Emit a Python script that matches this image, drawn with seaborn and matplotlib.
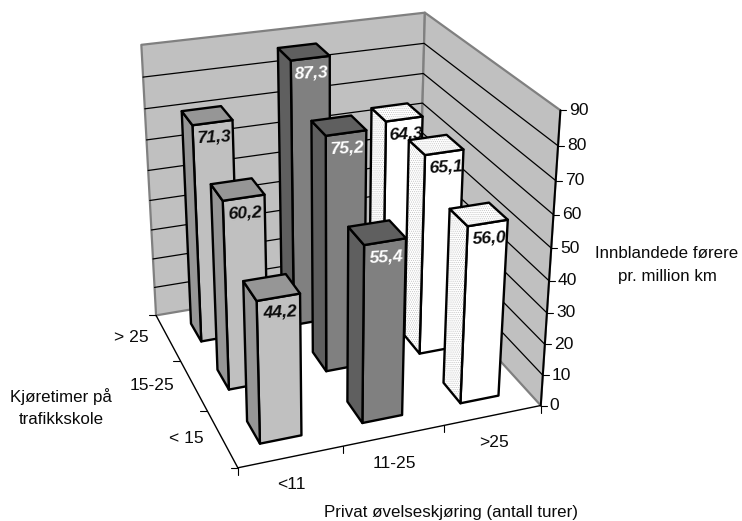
import numpy as np
import pandas as pd
import seaborn as sns
import matplotlib
matplotlib.use("Agg")
import matplotlib.pyplot as plt
from matplotlib.patches import Polygon

# Innblandede førere pr. million km
kjoretimer = ["< 15", "15-25", "> 25"]
ovelse = ["<11", "11-25", ">25"]
verdier_lt11 = [44.2, 60.2, 71.3]
verdier_11_25 = [55.4, 75.2, 87.3]
verdier_gt25 = [56.0, 65.1, 64.3]
z_ticks = list(range(0, 100, 10))

df = pd.DataFrame({"<11": verdier_lt11, "11-25": verdier_11_25, ">25": verdier_gt25},
                  index=kjoretimer)

sns.set_theme(style="white")
plt.rcParams["font.family"] = ["Liberation Sans", "DejaVu Sans"]
plt.rcParams["hatch.linewidth"] = 0.5

W, H = 742, 521
fig = plt.figure(figsize=(W / 100, H / 100), dpi=100)
ax = fig.add_axes([0, 0, 1, 1])
ax.set_xlim(0, W)
ax.set_ylim(H, 0)
ax.axis("off")
sns.despine(ax=ax, left=True, bottom=True)

# Perspective camera calibrated in pixel space: (col, row, value) -> (sx, sy)
calib = [
    (0, 0, 0, 238, 466), (3, 0, 0, 541.5, 405), (0, 3, 0, 156, 315),
    (0, 3, 90, 141, 44), (3, 3, 90, 425, 13), (3, 0, 90, 560, 110),
    (1, 0, 0, 343, 449), (0, 1, 0, 208, 412), (0, 2, 0, 180, 360),
    (3, 0, 40, 549.5, 281), (3, 0, 60, 554, 214),
    (.3, .3, 0, 260, 443), (.7, .3, 0, 301.5, 435), (.3, .3, 44.2, 257, 302),
    (2.3, .3, 0, 460, 403), (2.7, .3, 0, 498, 396), (2.3, .3, 56, 467, 225),
    (2.7, .3, 56, 507, 220), (1.3, 2.3, 87.3, 292, 60), (1.7, 2.3, 87.3, 330, 57),
    (.3, 2.3, 71.3, 192, 126), (.7, 2.3, 71.3, 232, 120),
]
A, b = [], []
for x, y, z, sx, sy in calib:
    z = z / 90
    A.append([x, y, z, 1, 0, 0, 0, 0, -sx * x, -sx * y, -sx * z])
    b.append(sx)
    A.append([0, 0, 0, 0, x, y, z, 1, -sy * x, -sy * y, -sy * z])
    b.append(sy)
p = np.linalg.lstsq(np.array(A, float), np.array(b, float), rcond=None)[0]
P = np.append(p, 1.0).reshape(3, 4)


def proj(x, y, z):
    v = P @ np.array([x, y, z / 90, 1.0])
    return v[0] / v[2], v[1] / v[2]


def face(*corners, **kw):
    ax.add_patch(Polygon([proj(*c) for c in corners], closed=True, **kw))


# Walls
wall = dict(facecolor="#c0c0c0", edgecolor="#808080", lw=1.6, joinstyle="round", zorder=1)
face((0, 3, 0), (3, 3, 0), (3, 3, 90), (0, 3, 90), **wall)
face((3, 3, 0), (3, 0, 0), (3, 0, 90), (3, 3, 90), **wall)

# Gridlines on both walls
for z in z_ticks[1:-1]:
    pts = [proj(0, 3, z), proj(3, 3, z), proj(3, 0, z)]
    ax.plot(*zip(*pts), color="black", lw=0.9, zorder=2)

# Floor axes and value axis
ax.plot(*zip(proj(0, 3, 0), proj(0, 0, 0), proj(3, 0, 0)), color="black", lw=1.0, zorder=3)
ax.plot(*zip(proj(3, 0, 0), proj(3, 0, 90)), color="black", lw=1.4, zorder=3)

TICK_SIZE = 12.6
TITLE_SIZE = 12.2
INK = "#0a0a0a"

for z in z_ticks:
    sx, sy = proj(3, 0, z)
    ax.plot([sx, sx + 6], [sy, sy], color="black", lw=0.8, zorder=3)
    ax.text(sx + 9, sy, str(z), ha="left", va="center", fontsize=TICK_SIZE, color=INK)

for i in range(len(kjoretimer) + 1):
    sx, sy = proj(0, i, 0)
    ax.plot([sx, sx - 7], [sy, sy], color="black", lw=0.8, zorder=3)
for i, lab in enumerate(kjoretimer):
    sx, sy = proj(0, i + .5, 0)
    ax.text(sx - 19, sy, lab, ha="right", va="center", fontsize=TICK_SIZE, color=INK)

for j in range(len(ovelse) + 1):
    sx, sy = proj(j, 0, 0)
    ax.plot([sx, sx], [sy, sy + 7], color="black", lw=0.8, zorder=3)
for j, lab in enumerate(ovelse):
    sx, sy = proj(j + .5, 0, 0)
    ax.text(sx + 0.5, sy + 27.5, lab, ha="center", va="center", fontsize=TICK_SIZE, color=INK)

# Bars, back row first so nearer bars overlap the ones behind them
styles = {
    "<11": dict(front="#c0c0c0", side="#969696", text="#0a0a0a", dotted=False),
    "11-25": dict(front="#808080", side="#5f5f5f", text="white", dotted=False),
    ">25": dict(front="white", side="#f4f4f4", text="#0a0a0a", dotted=True),
}
m = 0.3
order = 10
for i in reversed(range(len(df.index))):
    for j in reversed(range(len(df.columns))):
        col = df.columns[j]
        v = df.iloc[i, j]
        st = styles[col]
        x0, x1 = j + m, j + 1 - m
        y0, y1 = i + m, i + 1 - m
        faces = [
            ([(x0, y0, 0), (x1, y0, 0), (x1, y0, v), (x0, y0, v)], False),
            ([(x0, y1, 0), (x0, y0, 0), (x0, y0, v), (x0, y1, v)], True),
            ([(x0, y0, v), (x1, y0, v), (x1, y1, v), (x0, y1, v)], True),
        ]
        order += 1
        for corners, shaded in faces:
            color = st["side"] if shaded else st["front"]
            if shaded and st["dotted"]:
                face(*corners, facecolor="white", edgecolor="#c4c4c4", hatch="........", lw=0, zorder=order)
                face(*corners, fill=False, edgecolor="black", lw=1.7, joinstyle="round", zorder=order)
            else:
                face(*corners, facecolor=color, edgecolor="black", lw=1.7, joinstyle="round", zorder=order)
        tx, ty = proj((x0 + x1) / 2, y0, v)
        ax.text(tx + 1.5, ty + 15, f"{v:.1f}".replace(".", ","), ha="center", va="center",
                fontsize=12.6, fontweight="bold", fontstyle="italic", rotation=3,
                color=st["text"], zorder=order)

# Axis titles
ax.text(61, 397, "Kjøretimer på", ha="center", va="center", fontsize=TITLE_SIZE, color=INK)
ax.text(61, 419, "trafikkskole", ha="center", va="center", fontsize=TITLE_SIZE, color=INK)
ax.text(667, 253, "Innblandede førere", ha="center", va="center", fontsize=TITLE_SIZE, color=INK)
ax.text(667, 276, "pr. million km", ha="center", va="center", fontsize=TITLE_SIZE, color=INK)
ax.text(451, 513, "Privat øvelseskjøring (antall turer)", ha="center", va="center", fontsize=TITLE_SIZE, color=INK)

fig.savefig("out.png", dpi=100)
